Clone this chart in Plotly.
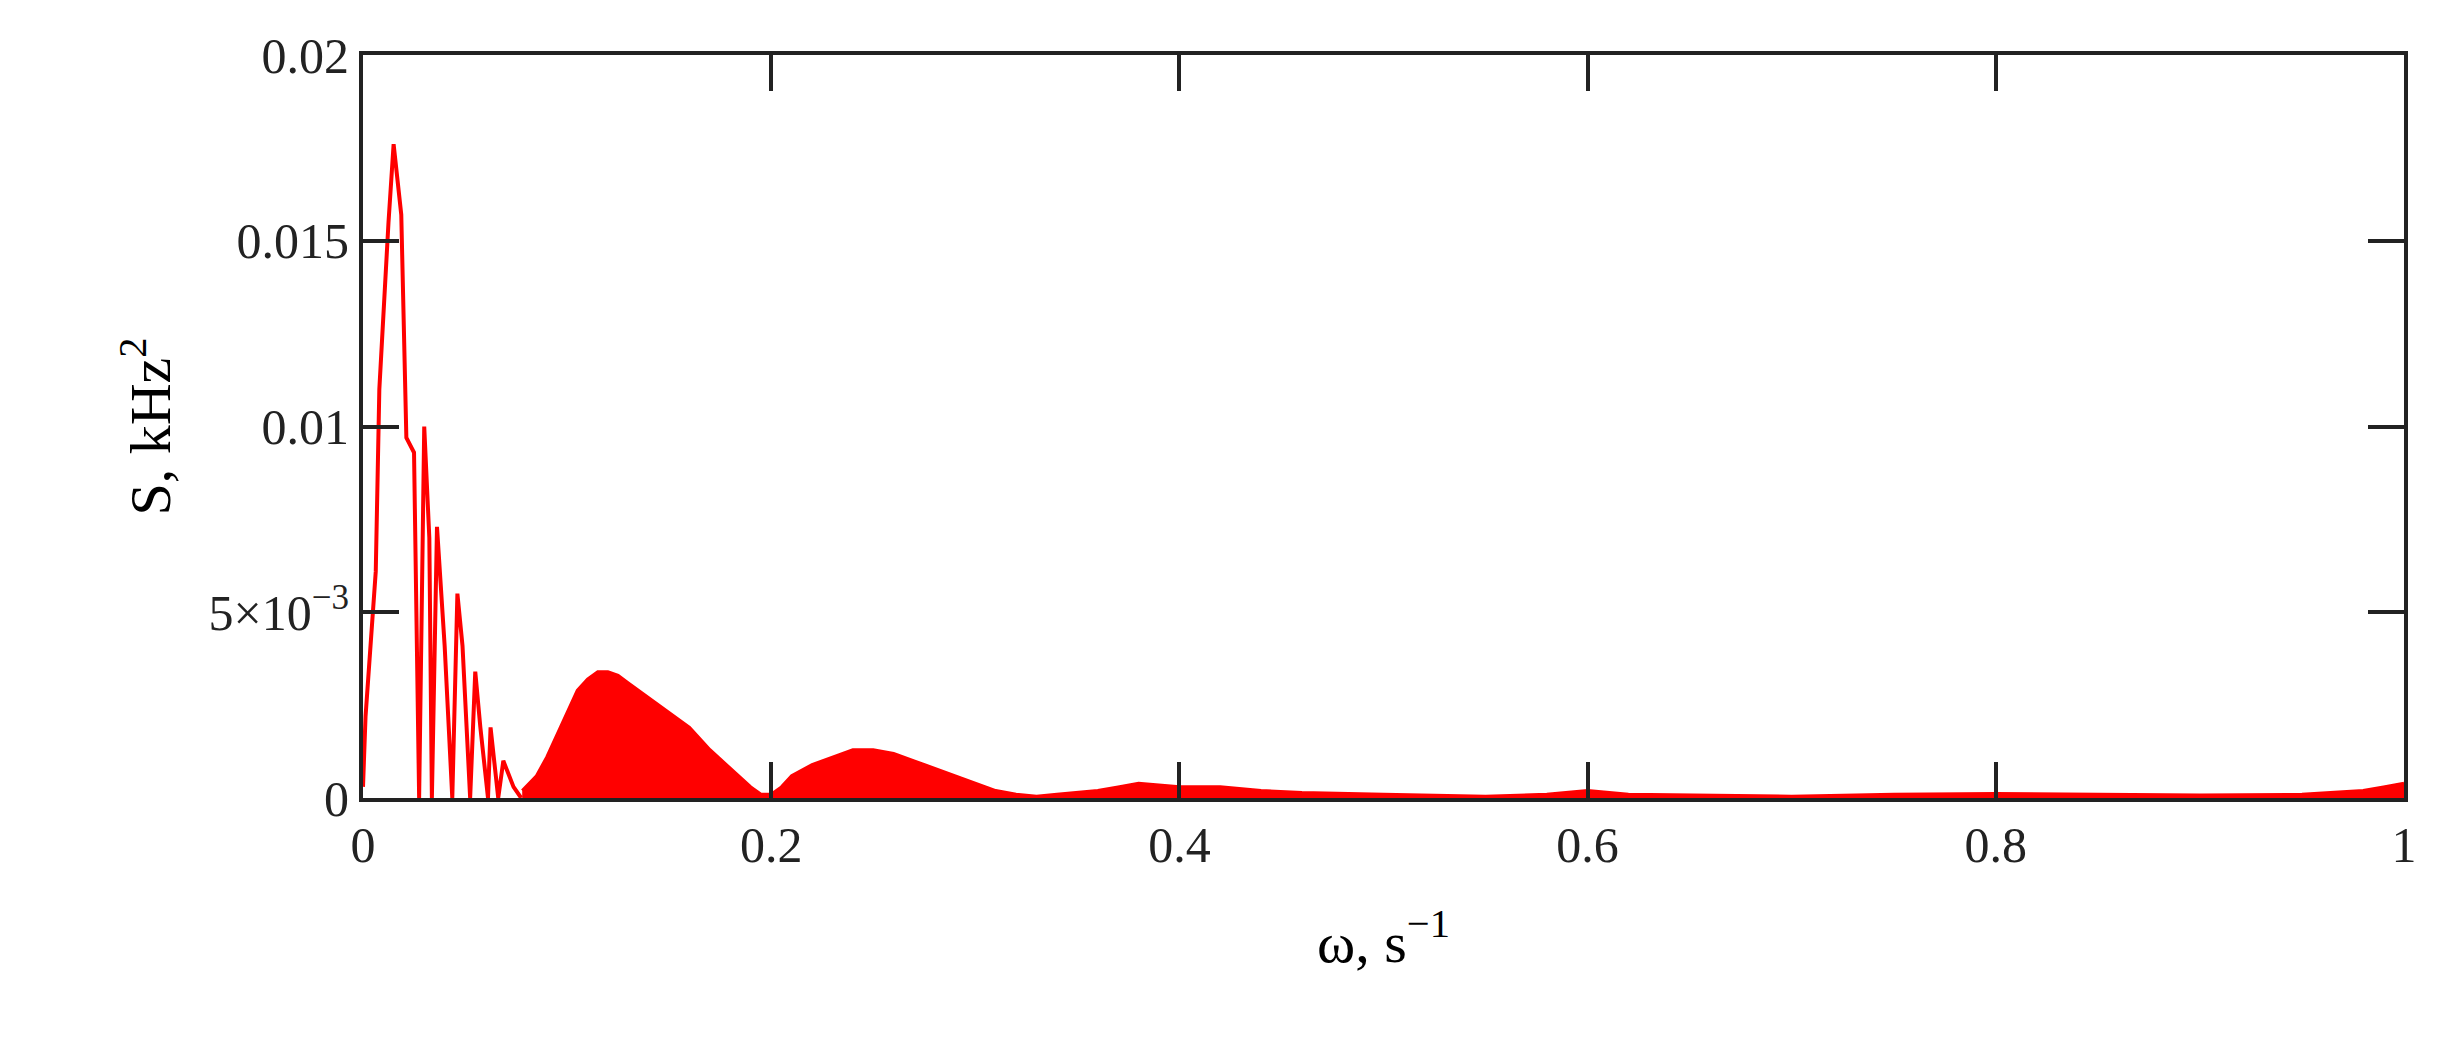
import plotly.graph_objects as go

# low-frequency spiky part
spike_w = [0.0, 0.00125, 0.00625, 0.008, 0.0125, 0.015, 0.01875, 0.02125, 0.025, 0.0275, 0.03,
           0.0325, 0.03375, 0.03625, 0.04, 0.04375, 0.04625, 0.04875, 0.0525, 0.055, 0.0575,
           0.06125, 0.0625, 0.06625, 0.06875, 0.07375, 0.0775]
spike_s = [0.0003, 0.0022, 0.0061, 0.011, 0.0155, 0.0176, 0.0157, 0.0097, 0.0093, 0.0, 0.0100,
           0.0070, 0.0, 0.0073, 0.0041, 0.0, 0.0055, 0.0041, 0.0, 0.0034, 0.0019,
           0.0, 0.0019, 0.0, 0.001, 0.0003, 0.0]

# broad filled humps
hump_w = [0.078, 0.085, 0.09, 0.095, 0.1, 0.105, 0.11, 0.115, 0.12, 0.125, 0.13, 0.14, 0.15,
          0.16, 0.17, 0.18, 0.19, 0.195, 0.2, 0.205, 0.21, 0.22, 0.23, 0.24, 0.25, 0.26,
          0.27, 0.28, 0.29, 0.3, 0.31, 0.32, 0.33, 0.34, 0.36, 0.37, 0.38, 0.4, 0.42,
          0.44, 0.46, 0.5, 0.55, 0.58, 0.6, 0.62, 0.65, 0.7, 0.75, 0.8, 0.85, 0.9, 0.95,
          0.98, 0.99, 1.0]
hump_s = [0.0002, 0.0006, 0.0011, 0.0017, 0.0023, 0.0029, 0.0032, 0.0034, 0.0034, 0.0033,
          0.0031, 0.0027, 0.0023, 0.0019, 0.0013, 0.0008, 0.0003, 0.0001, 0.0001, 0.0003,
          0.0006, 0.0009, 0.0011, 0.0013, 0.0013, 0.0012, 0.0010, 0.0008, 0.0006, 0.0004,
          0.0002, 0.0001, 0.00005, 0.0001, 0.0002, 0.0003, 0.0004, 0.0003, 0.0003,
          0.0002, 0.00015, 0.0001, 0.00005, 0.0001, 0.0002, 0.0001, 0.00008, 0.00005,
          0.0001, 0.00012, 0.0001, 0.00008, 0.0001, 0.0002, 0.0003, 0.0004]

x_ticks = [0, 0.2, 0.4, 0.6, 0.8, 1]
x_labels = ["0", "0.2", "0.4", "0.6", "0.8", "1"]
y_ticks = [0, 0.005, 0.01, 0.015, 0.02]
y_labels = ["0", "5×10<sup>−3</sup>", "0.01", "0.015", "0.02"]

RED = "#ff0000"
FONT = "Liberation Serif"

fig = go.Figure()
fig.add_trace(go.Scatter(x=spike_w, y=spike_s, mode="lines",
                         line=dict(color=RED, width=4)))
fig.add_trace(go.Scatter(x=hump_w, y=hump_s, mode="lines", fill="tozeroy",
                         fillcolor=RED, line=dict(color=RED, width=3)))

axis = dict(showgrid=False, zeroline=False, showline=True, linecolor="#222",
            linewidth=4, mirror="ticks", ticks="inside", ticklen=36, tickwidth=4,
            tickcolor="#222", tickfont=dict(family=FONT, size=50, color="#222"))
fig.update_layout(
    width=2440, height=1048, plot_bgcolor="white", paper_bgcolor="white",
    showlegend=False, margin=dict(l=355, r=44, t=47, b=258),
    font=dict(family=FONT),
)
fig.update_xaxes(axis, range=[0, 1], tickvals=x_ticks, ticktext=x_labels,
                 title=dict(text="ω, s<sup>−1</sup>", font=dict(family=FONT, size=58, color="black"),
                            standoff=50))
fig.update_yaxes(axis, range=[0, 0.02], tickvals=y_ticks, ticktext=y_labels,
                 title=dict(text="S, kHz<sup>2</sup>", font=dict(family=FONT, size=58, color="black"),
                            standoff=20))
fig.write_html("out.html")
